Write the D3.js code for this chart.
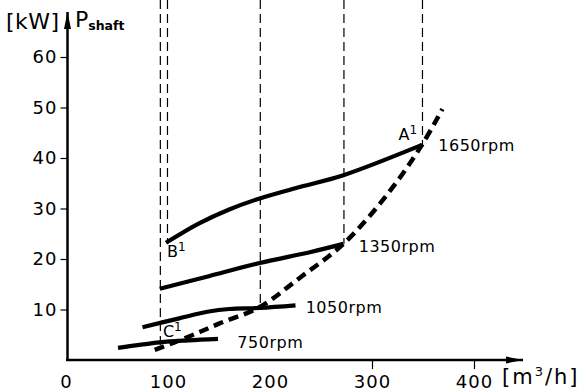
<!DOCTYPE html>
<html>
<head>
<meta charset="utf-8">
<script src="https://cdn.jsdelivr.net/npm/d3@7"></script>
<style>
  body { margin: 0; background: #fff; }
  text { font-family: "DejaVu Sans", sans-serif; fill: #000; }
</style>
</head>
<body>
<svg id="chart" width="587" height="392"></svg>
<script>
// flow [m3/h] and shaft power [kW]
const rpm1650Q = [98, 130, 160, 190, 230, 272, 349];
const rpm1650P = [23.2, 27, 29.8, 32, 34.3, 36.6, 42.6];
const rpm1350Q = [92, 140, 190, 240, 272];
const rpm1350P = [14.1, 16.6, 19.2, 21.4, 23];
const rpm1050Q = [75, 110, 140, 160, 190, 225];
const rpm1050P = [6.5, 8.2, 9.6, 10.1, 10.3, 10.8];
const rpm750Q = [51, 92, 120, 149];
const rpm750P = [2.4, 3.5, 3.9, 4.2];
const systemQ = [87, 120, 150, 190, 230, 272, 315, 349, 369];
const systemP = [2, 4.6, 7.2, 10.5, 16.4, 23, 32.8, 42.6, 49.7];
const dropQ = [92, 99, 190, 272, 349];
const dropP = [2.6, 23.2, 10.5, 23, 42.6];
const xTicks = [0, 100, 200, 300, 400];
const yTicks = [10, 20, 30, 40, 50, 60];

const svg = d3.select('#chart');
const x = d3.scaleLinear().domain([0, 400]).range([66, 474]);
const y = d3.scaleLinear().domain([0, 60]).range([360, 57]);
const zip = (a, b) => a.map((v, i) => [v, b[i]]);
const line = d3.line().x(d => x(d[0])).y(d => y(d[1])).curve(d3.curveCatmullRom);

// vertical dashed guides
svg.append('g')
  .selectAll('line')
  .data(zip(dropQ, dropP))
  .enter()
  .append('line')
  .attr('x1', d => x(d[0]) + 0.5)
  .attr('x2', d => x(d[0]) + 0.5)
  .attr('y1', 0)
  .attr('y2', d => y(d[1]))
  .attr('stroke', '#000')
  .attr('stroke-width', 1.2)
  .attr('stroke-dasharray', '9,5');

// axes
svg.append('defs')
  .append('marker')
  .attr('id', 'arrow')
  .attr('markerUnits', 'userSpaceOnUse')
  .attr('markerWidth', 18)
  .attr('markerHeight', 10)
  .attr('refX', 17)
  .attr('refY', 5)
  .attr('orient', 'auto')
  .append('path')
  .attr('d', 'M 0 1.5 L 17 5 L 0 8.5 Z')
  .attr('fill', '#000');

svg.append('line')
  .attr('x1', x(0) + 1.5).attr('x2', x(0) + 1.5)
  .attr('y1', y(0) + 1).attr('y2', 12)
  .attr('stroke', '#000').attr('stroke-width', 2.5)
  .attr('marker-end', 'url(#arrow)');
svg.append('line')
  .attr('x1', x(0)).attr('x2', 523)
  .attr('y1', y(0)).attr('y2', y(0))
  .attr('stroke', '#000').attr('stroke-width', 2.5)
  .attr('marker-end', 'url(#arrow)');

const yAxis = svg.append('g')
  .attr('transform', `translate(${x(0) + 1.5},0)`)
  .call(d3.axisLeft(y).tickValues(yTicks).tickSize(7).tickPadding(3));
yAxis.select('.domain').remove();
yAxis.selectAll('line').attr('stroke-width', 1.2);
yAxis.selectAll('text')
  .attr('font-size', 18)
  .attr('letter-spacing', 1)
  .attr('font-family', '"DejaVu Sans", sans-serif');

const xAxis = svg.append('g')
  .attr('transform', `translate(0,${y(0)})`)
  .call(d3.axisBottom(x).tickValues(xTicks).tickSize(9).tickPadding(6));
xAxis.select('.domain').remove();
xAxis.selectAll('line')
  .attr('stroke-width', 1.2)
  .attr('opacity', d => (d >= 300 ? 1 : 0));
xAxis.selectAll('text')
  .attr('font-size', 18)
  .attr('letter-spacing', 1)
  .attr('font-family', '"DejaVu Sans", sans-serif');

// axis titles
svg.append('text').attr('x', 6).attr('y', 29).attr('font-size', 22)
  .attr('letter-spacing', 0.5).text('[kW]');
const pt = svg.append('text').attr('x', 75).attr('y', 27).attr('font-size', 22);
pt.append('tspan').text('P');
pt.append('tspan').attr('dy', 3).attr('font-size', 12.5).attr('font-weight', 'bold').text('shaft');

const ut = svg.append('text').attr('x', 502).attr('y', 384).attr('font-size', 21).attr('letter-spacing', 2);
ut.append('tspan').text('[m');
ut.append('tspan').attr('dy', -8).attr('font-size', 13).text('3');
ut.append('tspan').attr('dy', 8).text('/h]');

// speed curves
const curves = [
  zip(rpm1650Q, rpm1650P),
  zip(rpm1350Q, rpm1350P),
  zip(rpm1050Q, rpm1050P),
  zip(rpm750Q, rpm750P)
];
svg.append('g')
  .selectAll('path')
  .data(curves)
  .enter()
  .append('path')
  .attr('d', line)
  .attr('fill', 'none')
  .attr('stroke', '#000')
  .attr('stroke-width', 4.2);

// system curve
svg.append('path')
  .attr('d', line(zip(systemQ, systemP)))
  .attr('fill', 'none')
  .attr('stroke', '#000')
  .attr('stroke-width', 4.5)
  .attr('stroke-dasharray', '10,6');

// labels
const rpmLabels = [
  { t: '1650rpm', q: 365, p: 42.6 },
  { t: '1350rpm', q: 287, p: 22.5 },
  { t: '1050rpm', q: 235, p: 10.4 },
  { t: '750rpm', q: 168, p: 3.5 }
];
svg.append('g')
  .selectAll('text')
  .data(rpmLabels)
  .enter()
  .append('text')
  .attr('x', d => x(d.q))
  .attr('y', d => y(d.p) + 6)
  .attr('font-size', 16)
  .attr('letter-spacing', 0.5)
  .text(d => d.t);

const pointLabels = [
  { t: 'A', q: 326, p: 43.5 },
  { t: 'B', q: 99, p: 20.3 },
  { t: 'C', q: 95, p: 4.6 }
];
const pl = svg.append('g')
  .selectAll('text')
  .data(pointLabels)
  .enter()
  .append('text')
  .attr('x', d => x(d.q))
  .attr('y', d => y(d.p))
  .attr('font-size', 16);
pl.append('tspan').text(d => d.t);
pl.append('tspan').attr('dy', -6).attr('font-size', 12).text('1');
</script>
</body>
</html>
